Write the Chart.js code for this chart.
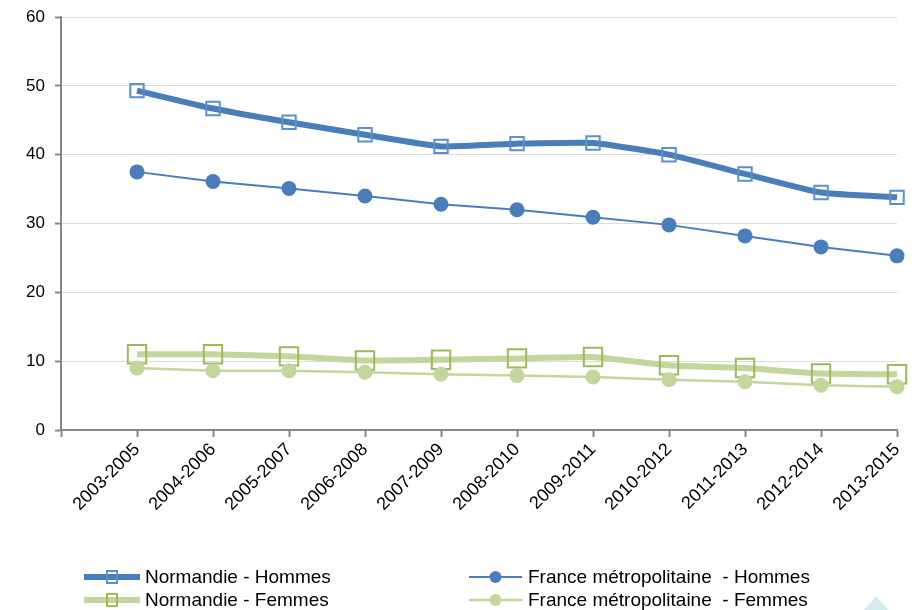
<!DOCTYPE html>
<html>
<head>
<meta charset="utf-8">
<script src="https://cdn.jsdelivr.net/npm/chart.js@4/dist/chart.umd.min.js"></script>
<style>
  html, body { margin: 0; padding: 0; background: #fff; }
  #wrap { width: 918px; height: 610px; position: relative; }
</style>
</head>
<body>
<div id="wrap"><canvas id="chart" width="918" height="610"></canvas></div>
<script>
// periods on the x axis
const categories = ['2003-2005', '2004-2006', '2005-2007', '2006-2008', '2007-2009', '2008-2010',
                    '2009-2011', '2010-2012', '2011-2013', '2012-2014', '2013-2015'];

const normandieHommes = [49.3, 46.7, 44.7, 42.9, 41.2, 41.6, 41.7, 40.0, 37.2, 34.5, 33.8];
const franceHommes    = [37.5, 36.1, 35.1, 34.0, 32.8, 32.0, 30.9, 29.8, 28.2, 26.6, 25.3];
const normandieFemmes = [11.0, 11.0, 10.7, 10.1, 10.2, 10.4, 10.6, 9.4, 9.0, 8.2, 8.1];
const franceFemmes    = [9.0, 8.6, 8.6, 8.4, 8.1, 7.9, 7.7, 7.3, 7.0, 6.5, 6.3];

const yTicks = [0, 10, 20, 30, 40, 50, 60];

const FONT = "'Liberation Sans', Arial, sans-serif";
const BLUE = '#4a7ebb';
const GREEN = '#c3d69b';

const pts = arr => arr.map((v, i) => ({ x: i, y: v }));

const series = [
  { label: 'Normandie - Hommes', data: pts(normandieHommes), borderColor: BLUE, borderWidth: 6,
    pointStyle: 'rect', pointRadius: 9.5, pointBorderColor: '#5b8fd0', pointBackgroundColor: 'rgba(0,0,0,0)',
    pointBorderWidth: 2, tension: 0.15, order: 4 },
  { label: 'France métropolitaine  - Hommes', data: pts(franceHommes), borderColor: BLUE, borderWidth: 2,
    pointStyle: 'circle', pointRadius: 7.5, pointBorderColor: BLUE, pointBackgroundColor: BLUE,
    pointBorderWidth: 0, tension: 0, order: 3 },
  { label: 'Normandie - Femmes', data: pts(normandieFemmes), borderColor: GREEN, borderWidth: 6,
    pointStyle: 'rect', pointRadius: 13, pointBorderColor: '#9bbb59', pointBackgroundColor: 'rgba(0,0,0,0)',
    pointBorderWidth: 2, tension: 0.15, order: 2 },
  { label: 'France métropolitaine  - Femmes', data: pts(franceFemmes), borderColor: GREEN, borderWidth: 2.5,
    pointStyle: 'circle', pointRadius: 7.5, pointBorderColor: GREEN, pointBackgroundColor: GREEN,
    pointBorderWidth: 0, tension: 0, order: 1 }
];

// legend in two columns, drawn on the canvas
const legendPlugin = {
  id: 'gridLegend',
  afterDraw(chart) {
    const ctx = chart.ctx;
    const cols = [[84, 140, 145], [469, 522, 528]];
    const rows = [577, 600];
    ctx.save();
    ctx.font = '19px ' + FONT;
    ctx.textBaseline = 'middle';
    series.forEach((s, i) => {
      const [x0, x1, tx] = cols[i % 2];
      const y = rows[Math.floor(i / 2)];
      ctx.strokeStyle = s.borderColor;
      ctx.lineWidth = s.borderWidth;
      ctx.beginPath();
      ctx.moveTo(x0, y);
      ctx.lineTo(x1, y);
      ctx.stroke();
      const cx = (x0 + x1) / 2;
      if (s.pointStyle === 'rect') {
        ctx.strokeStyle = s.pointBorderColor;
        ctx.lineWidth = 2;
        ctx.strokeRect(cx - 5, y - 6, 10, 12);
      } else {
        ctx.fillStyle = s.pointBackgroundColor;
        ctx.beginPath();
        ctx.arc(cx, y, 6, 0, Math.PI * 2);
        ctx.fill();
      }
      ctx.fillStyle = '#000';
      ctx.fillText(s.label, tx, y + 1);
    });
    // small decorative triangle in the corner
    ctx.fillStyle = '#d4ecf0';
    ctx.beginPath();
    ctx.moveTo(876, 596);
    ctx.lineTo(890, 612);
    ctx.lineTo(862, 612);
    ctx.closePath();
    ctx.fill();
    ctx.restore();
  }
};

const ctx = document.getElementById('chart').getContext('2d');
new Chart(ctx, {
  type: 'line',
  data: { datasets: series.map(s => Object.assign({ fill: false, clip: false, pointHoverRadius: s.pointRadius }, s)) },
  options: {
    responsive: false,
    animation: false,
    layout: { padding: { top: 17, right: 21, bottom: 80, left: 0 } },
    plugins: { legend: { display: false }, tooltip: { enabled: false } },
    scales: {
      x: {
        type: 'linear', min: -1, max: 10,
        afterFit: s => { s.height = 100; s.paddingLeft = 0; s.paddingRight = 0; },
        border: { color: '#868686', width: 2 },
        grid: { drawOnChartArea: false, drawTicks: true, tickLength: 7, tickColor: '#868686', tickWidth: 2 },
        afterBuildTicks: s => { s.ticks = [-1, 0, 1, 2, 3, 4, 5, 6, 7, 8, 9, 10].map(v => ({ value: v })); },
        ticks: {
          autoSkip: false, minRotation: 45, maxRotation: 45, padding: 2,
          color: '#000', font: { family: FONT, size: 18 },
          callback: v => categories[v] !== undefined ? categories[v] : ''
        }
      },
      y: {
        min: 0, max: 60,
        afterFit: s => { s.width = 61; s.paddingTop = 0; s.paddingBottom = 0; },
        afterBuildTicks: s => { s.ticks = yTicks.map(v => ({ value: v })); },
        border: { color: '#868686', width: 2 },
        grid: { color: '#dcdcdc', lineWidth: 1, tickLength: 6, tickColor: '#868686', tickWidth: 2,
                borderDash: [3, 3], tickBorderDash: [] },
        ticks: { color: '#000', font: { family: FONT, size: 17 }, padding: 10 }
      }
    }
  },
  plugins: [legendPlugin]
});
</script>
</body>
</html>
